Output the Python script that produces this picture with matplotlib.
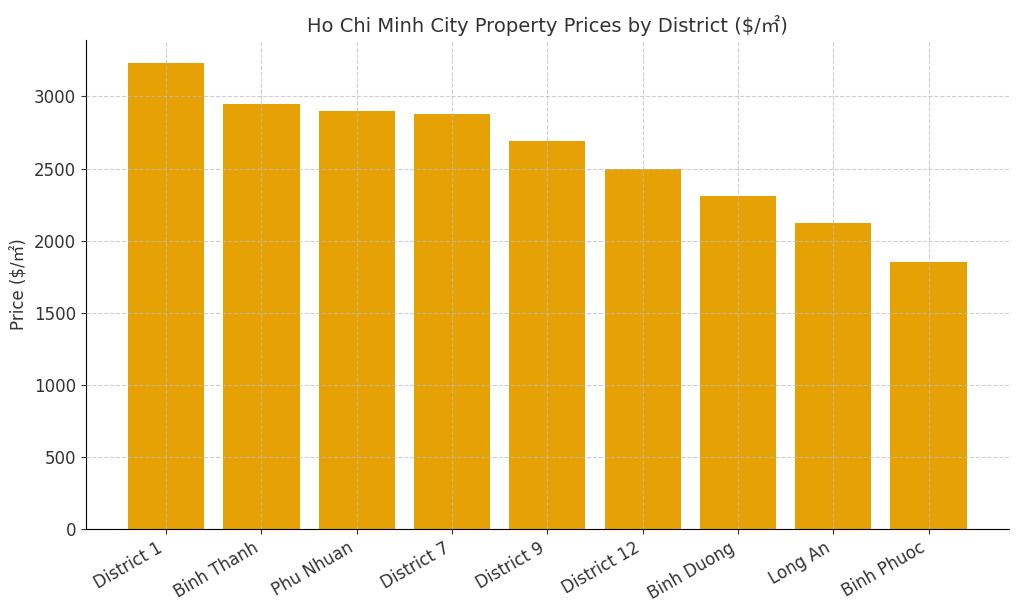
import matplotlib
matplotlib.use('Agg')
import matplotlib.pyplot as plt

districts = ['District 1', 'Binh Thanh', 'Phu Nhuan', 'District 7', 'District 9',
             'District 12', 'Binh Duong', 'Long An', 'Binh Phuoc']
prices = [3230, 2950, 2900, 2880, 2690, 2500, 2310, 2120, 1850]

plt.rcParams['font.family'] = ['DejaVu Sans', 'Noto Sans CJK SC']
plt.rcParams['text.color'] = '#333333'
plt.rcParams['axes.labelcolor'] = '#333333'
plt.rcParams['xtick.color'] = '#333333'
plt.rcParams['ytick.color'] = '#333333'


def plot_prices(file_name='out.png'):
    fig, ax = plt.subplots(figsize=(10.24, 6.14), dpi=100)

    ax.bar(districts, prices, width=0.8, color='#E69F00', alpha=0.98)
    ax.grid(True, linestyle='--', color='#bbbbbb', alpha=0.7, linewidth=0.8)
    ax.set_axisbelow(False)

    ax.set_title('Ho Chi Minh City Property Prices by District ($/㎡)', fontsize=14)
    ax.set_ylabel('Price ($/㎡)', fontsize=12)
    ax.tick_params(axis='both', labelsize=12)
    plt.setp(ax.get_xticklabels(), rotation=30, ha='right')

    ax.spines['top'].set_visible(False)
    ax.spines['right'].set_visible(False)

    plt.subplots_adjust(left=0.084, right=0.985, top=0.935, bottom=0.138)
    fig.savefig(file_name)


if __name__ == '__main__':
    plot_prices('out.png')
